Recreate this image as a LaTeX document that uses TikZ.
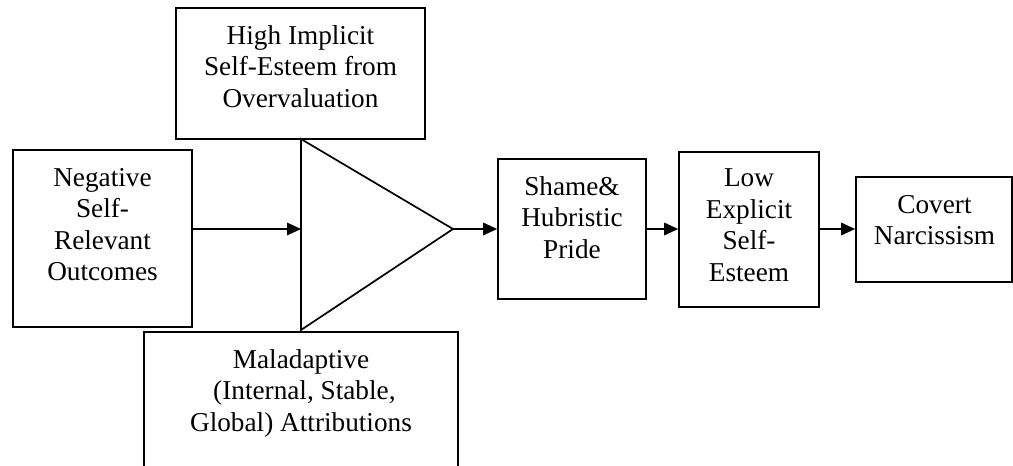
\documentclass[tikz,border=0pt]{standalone}
\usepackage{fontspec}
\setmainfont{Liberation Serif}
\usetikzlibrary{arrows.meta}

% centred block of lines whose first baseline sits on the node's base anchor
\newcommand{\lines}[1]{\begin{tabular}[t]{@{}c@{}}#1\end{tabular}}

\tikzset{
  box/.style={draw, line width=1.7pt, inner sep=0pt, rectangle},
  txt/.style={anchor=base, inner sep=0pt, font=\fontsize{27.25}{31.5}\selectfont},
  arr/.style={line width=1.7pt, -{Triangle[length=14pt, width=12.5pt]}},
  edge/.style={line width=1.7pt, line join=miter}
}

\begin{document}
\begin{tikzpicture}[x=1pt, y=-1pt]
  \clip (0,0) rectangle (1013,466);
  \useasboundingbox (0,0) rectangle (1013,466);

  % boxes
  \node[box, minimum width=249pt, minimum height=131pt] (top)   at (300.5,73.5)  {};
  \node[box, minimum width=179pt, minimum height=177pt] (neg)   at (102.5,238.5) {};
  \node[box, minimum width=314pt, minimum height=158pt] (mal)   at (301,411)     {};
  \node[box, minimum width=148pt, minimum height=140pt] (shame) at (572,229)     {};
  \node[box, minimum width=140pt, minimum height=155pt] (low)   at (749,229.5)   {};
  \node[box, minimum width=156pt, minimum height=105pt] (cov)   at (934,229.5)   {};

  % labels
  \node[txt] (top-t)   at (300.5,44)  {\lines{High Implicit\\Self-Esteem from\\Overvaluation}};
  \node[txt] (neg-t)   at (102.5,186) {\lines{Negative\\Self-\\Relevant\\Outcomes}};
  \node[txt] (mal-t)   at (301,368)   {\lines{Maladaptive\\\ (Internal, Stable,\\Global) Attributions}};
  \node[txt] (shame-t) at (572,195)   {\lines{Shame\&\\Hubristic\\Pride}};
  \node[txt] (low-t)   at (749,186.5) {\lines{Low\\Explicit\\Self-\\Esteem}};
  \node[txt] (cov-t)   at (934.5,213) {\lines{Covert\\Narcissism}};

  % combining triangle
  \coordinate (ta) at (301,139);
  \coordinate (tb) at (301,330);
  \coordinate (tip) at (453,229);
  \draw[edge] (ta) -- (tip) -- (tb) -- cycle;

  % connectors
  \draw[arr] (neg.east |- tip) -- (ta |- tip);
  \draw[arr] (tip) -- (shame.west);
  \draw[arr] (shame.east |- tip) -- (low.west |- tip);
  \draw[arr] (low.east |- tip) -- (cov.west |- tip);
\end{tikzpicture}
\end{document}
